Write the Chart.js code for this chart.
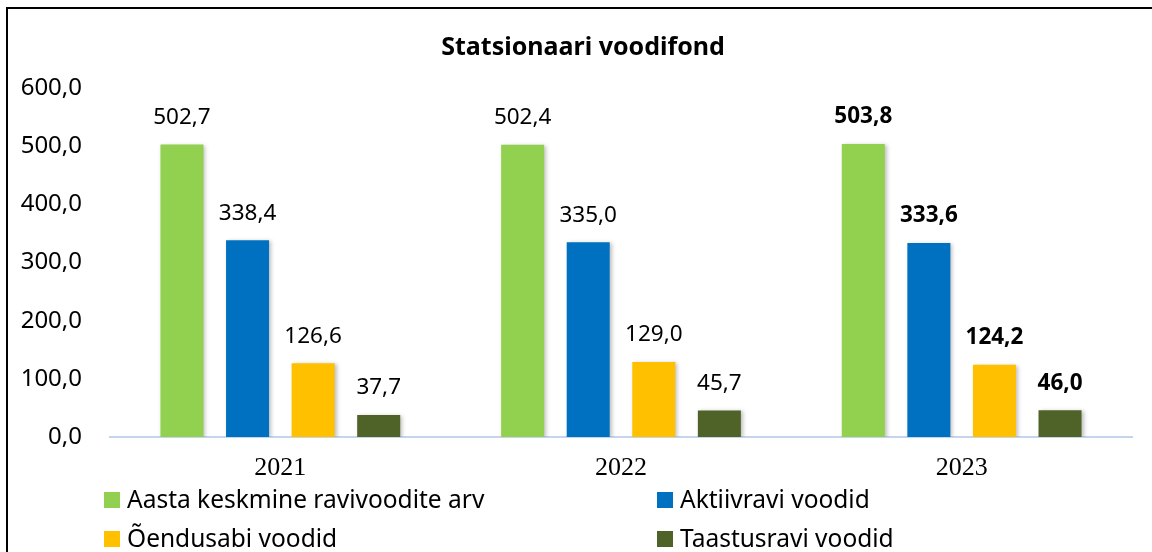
<!DOCTYPE html>
<html>
<head>
<meta charset="utf-8">
<script src="https://cdn.jsdelivr.net/npm/chart.js@4"></script>
<style>
    html, body { margin: 0; padding: 0; background: #fff; }
    #wrap { position: relative; width: 1152px; height: 552px; overflow: hidden; }
    #frame { position: absolute; left: 6px; top: 7px; right: -10px; bottom: -10px;
             border-left: 2px solid #000; border-top: 2px solid #000; pointer-events: none; }
</style>
</head>
<body>
<div id="wrap">
    <canvas id="bedChart" width="1152" height="552"></canvas>
    <div id="frame"></div>
</div>
<script>
const years = ["2021", "2022", "2023"];
const avgBeds = [502.7, 502.4, 503.8];
const activeBeds = [338.4, 335.0, 333.6];
const nursingBeds = [126.6, 129.0, 124.2];
const rehabBeds = [37.7, 45.7, 46.0];
const seriesNames = ["Aasta keskmine ravivoodite arv", "Aktiivravi voodid", "Õendusabi voodid", "Taastusravi voodid"];
const seriesColors = ["#92D050", "#0070C0", "#FFC000", "#4F6228"];
const chartTitle = "Statsionaari voodifond";
const boldYear = "2023";

const fmt = v => v.toFixed(1).replace(".", ",");
const sansFont = "'Noto Sans', 'Open Sans', sans-serif";

// title sits a bit right of the canvas centre, like the original
const titleText = {
    id: "titleText",
    afterDraw(chart) {
        const ctx = chart.ctx;
        ctx.save();
        ctx.font = "bold 25px " + sansFont;
        ctx.fillStyle = "#000";
        ctx.textAlign = "center";
        ctx.textBaseline = "middle";
        ctx.fillText(chartTitle, 583, 48);
        ctx.restore();
    }
};

// bar value labels, last year in bold
const valueLabels = {
    id: "valueLabels",
    afterDatasetsDraw(chart) {
        const ctx = chart.ctx;
        ctx.save();
        ctx.fillStyle = "#000";
        ctx.textAlign = "center";
        ctx.textBaseline = "middle";
        chart.data.datasets.forEach((ds, i) => {
            chart.getDatasetMeta(i).data.forEach((bar, j) => {
                const bold = chart.data.labels[j] === boldYear;
                ctx.font = (bold ? "bold " : "") + "22.5px " + sansFont;
                ctx.fillText(fmt(ds.data[j]), bar.x, bar.y - 27);
            });
        });
        ctx.restore();
    }
};

// light shadow under the bars
const barShadow = {
    id: "barShadow",
    beforeDatasetsDraw(chart) {
        const ctx = chart.ctx;
        ctx.save();
        ctx.shadowColor = "rgba(0,0,0,0.25)";
        ctx.shadowBlur = 4;
        ctx.shadowOffsetX = 2;
        ctx.shadowOffsetY = 1;
    },
    afterDatasetsDraw(chart) {
        chart.ctx.restore();
    }
};

// two-column legend below the axis
const gridLegend = {
    id: "gridLegend",
    afterDraw(chart) {
        const ctx = chart.ctx;
        const cols = [104, 657];
        const rows = [500, 539];
        ctx.save();
        ctx.font = "24.5px " + sansFont;
        ctx.textAlign = "left";
        ctx.textBaseline = "middle";
        chart.data.datasets.forEach((ds, i) => {
            const x = cols[i % 2];
            const y = rows[Math.floor(i / 2)];
            ctx.fillStyle = ds.backgroundColor;
            ctx.fillRect(x, y - 8, 16, 16);
            ctx.fillStyle = "#000";
            ctx.fillText(ds.label, x + 23, y + 1);
        });
        ctx.restore();
    }
};

const seriesData = [avgBeds, activeBeds, nursingBeds, rehabBeds];

new Chart(document.getElementById("bedChart"), {
    type: "bar",
    data: {
        labels: years,
        datasets: seriesData.map((d, i) => ({
            label: seriesNames[i],
            data: d,
            backgroundColor: seriesColors[i],
            categoryPercentage: 0.77,
            barPercentage: 0.656
        }))
    },
    options: {
        responsive: false,
        animation: false,
        layout: { padding: { left: 10, right: 20, top: 88, bottom: 0 } },
        plugins: {
            legend: { display: false },
            tooltip: { enabled: false },
            title: { display: false }
        },
        scales: {
            x: {
                grid: { display: false },
                border: { color: "#C5D6EC", width: 2 },
                ticks: {
                    color: "#000",
                    padding: 8,
                    font: { family: "'Liberation Serif', 'Times New Roman', serif", size: 26 }
                },
                afterFit(scale) { scale.height = 115; }
            },
            y: {
                min: 0,
                max: 600,
                grid: { display: false, drawTicks: false },
                border: { display: false },
                ticks: {
                    stepSize: 100,
                    color: "#000",
                    padding: 28,
                    font: { family: sansFont, size: 24 },
                    callback: v => fmt(v)
                },
                afterFit(scale) { scale.width = 100; }
            }
        }
    },
    plugins: [barShadow, valueLabels, gridLegend, titleText]
});
</script>
</body>
</html>
